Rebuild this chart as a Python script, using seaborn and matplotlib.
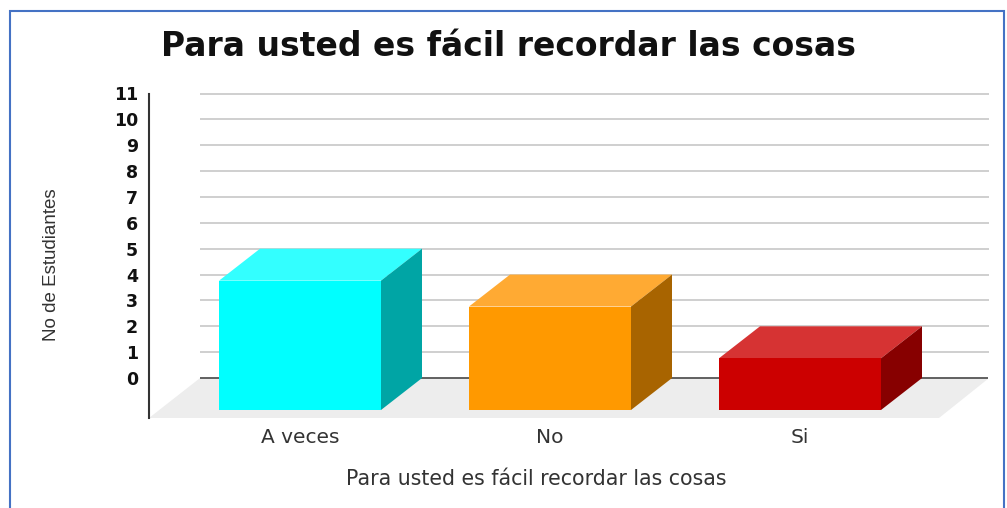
import matplotlib
matplotlib.use("Agg")
import matplotlib.pyplot as plt
from matplotlib.patches import Polygon, Rectangle
import pandas as pd
import seaborn as sns

categories = ["A veces", "No", "Si"]
students = [5, 4, 2]
y_ticks = list(range(0, 12))

title = "Para usted es fácil recordar las cosas"
x_label = "Para usted es fácil recordar las cosas"
y_label = "No de Estudiantes"

front_colors = ["#00FFFF", "#FF9900", "#CC0000"]
top_colors = ["#33FFFF", "#FFAA33", "#D63333"]
side_colors = ["#00A5A5", "#A86400", "#870000"]

# depth of the fake 3D box, in data units
DX = 0.164
DY = 1.235

sns.set_theme(style="white")
plt.rcParams["font.family"] = ["DejaVu Sans"]

fig = plt.figure(figsize=(10.07, 5.08), dpi=100)
ax = fig.add_axes([149 / 1007, 1 - 418 / 508, (988 - 149) / 1007, (418 - 93.5) / 508])

df = pd.DataFrame({"cat": categories, "n": students})
sns.barplot(data=df, x="cat", y="n", hue="cat", palette=front_colors, width=0.648,
            dodge=False, legend=False, saturation=1, ax=ax, zorder=5)

ax.set_xlim(-0.604, 2.752)
ax.set_ylim(-1.544, 11)

# floor and back wall lines
ax.add_patch(Polygon([(-0.604, -1.544), (-0.4, 0), (2.756, 0), (2.556, -1.544)],
                     closed=True, fc="#EDEDED", ec="none", zorder=1))
ax.hlines(y_ticks[1:], -0.4, 2.756, color="#CCCCCC", lw=1.3, zorder=2, clip_on=False)
ax.hlines(0, -0.4, 2.756, color="#555555", lw=1.3, zorder=2)

# push the bars forward and add top and side faces
for bar, top_c, side_c in zip(ax.patches[:3], top_colors, side_colors):
    bar.set_y(-DY)
    bar.set_linewidth(0)
    x0 = bar.get_x()
    x1 = x0 + bar.get_width()
    y0 = bar.get_y()
    y1 = y0 + bar.get_height()
    ax.add_patch(Polygon([(x0, y1), (x1, y1), (x1 + DX, y1 + DY), (x0 + DX, y1 + DY)],
                         closed=True, fc=top_c, ec="none", zorder=4))
    ax.add_patch(Polygon([(x1, y0), (x1 + DX, y0 + DY), (x1 + DX, y1 + DY), (x1, y1)],
                         closed=True, fc=side_c, ec="none", zorder=4))

ax.set_yticks(y_ticks)
ax.set_yticklabels(y_ticks, fontsize=12.5, fontweight="bold", color="#111111")
ax.set_xticks(range(len(categories)))
ax.set_xticklabels(categories, fontsize=14.5, color="#333333")
ax.tick_params(axis="y", length=0, pad=8)
ax.tick_params(axis="x", length=0, pad=7)

for side in ["top", "right", "bottom"]:
    ax.spines[side].set_visible(False)
ax.spines["left"].set_color("#333333")
ax.spines["left"].set_linewidth(1.5)

ax.set_xlabel("")
ax.set_ylabel("")
fig.text(536 / 1007, 1 - 479 / 508, x_label, ha="center", va="center", fontsize=14.8, color="#333333")
fig.text(52 / 1007, 1 - 265 / 508, y_label, ha="center", va="center", rotation=90, fontsize=13.5,
         color="#333333", family="Liberation Sans")
fig.text(508 / 1007, 1 - 46 / 508, title, ha="center", va="center", fontsize=23.8, fontweight="bold",
         color="#111111")

# blue frame around the picture
fig.add_artist(Rectangle((9.5 / 1007, -0.02), (1004 - 9.5) / 1007, 1.02 - 11 / 508,
                         transform=fig.transFigure, fc="none", ec="#4472C4", lw=1.5))

fig.savefig("out.png", dpi=100)
